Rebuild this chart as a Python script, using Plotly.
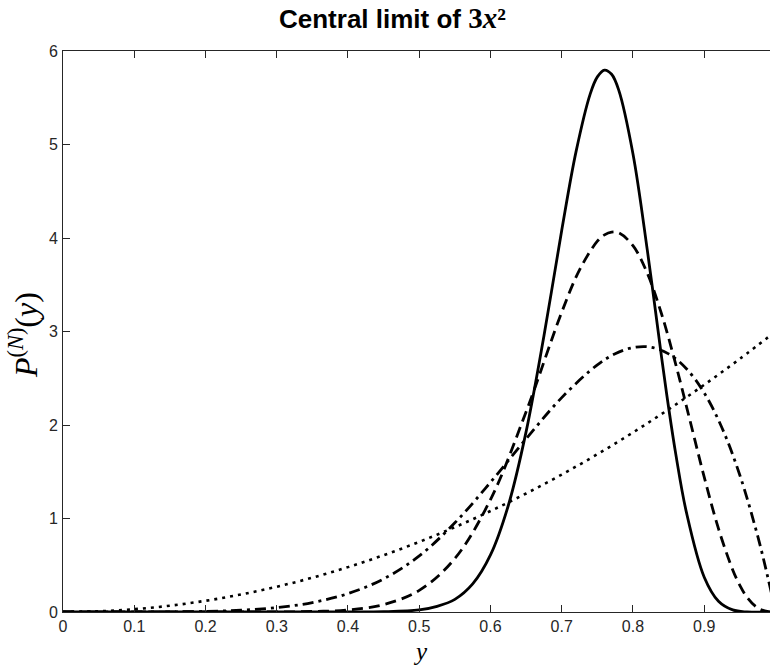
import plotly.graph_objects as go

# ---- data ----
# N = 1 (dotted)
y_n1 = [0, 0.05, 0.1, 0.15, 0.2, 0.25, 0.3, 0.35, 0.4, 0.45, 0.5, 0.55, 0.6,
        0.65, 0.7, 0.75, 0.8, 0.85, 0.9, 0.95, 1.0]
p_n1 = [0, 0.0075, 0.03, 0.0675, 0.12, 0.1875, 0.27, 0.3675, 0.48, 0.6075, 0.75,
        0.9075, 1.08, 1.2675, 1.47, 1.6875, 1.92, 2.1675, 2.43, 2.7075, 3.0]

# N = 2 (dash-dot)
y_n2 = [0, 0.05, 0.1, 0.15, 0.2, 0.25, 0.3, 0.35, 0.4, 0.45, 0.5, 0.55, 0.6,
        0.65, 0.7, 0.75, 0.775, 0.8, 0.825, 0.85, 0.875, 0.9, 0.925, 0.95,
        0.975, 0.99, 1.0]
p_n2 = [0, 0.00001, 0.0002, 0.0015, 0.0061, 0.0188, 0.0467, 0.1008, 0.1966,
        0.3543, 0.6, 0.954, 1.387, 1.852, 2.293, 2.644, 2.762, 2.828, 2.832,
        2.761, 2.602, 2.343, 1.968, 1.463, 0.813, 0.346, 0]

# N = 4 (dashed)
y_n4 = [0, 0.2, 0.25, 0.3, 0.35, 0.4, 0.45, 0.5, 0.55, 0.6, 0.65, 0.7, 0.725,
        0.75, 0.76, 0.77, 0.78, 0.8, 0.82, 0.84, 0.86, 0.88, 0.9, 0.92, 0.94,
        0.95, 0.96, 0.975, 0.99, 1.0]
p_n4 = [0, 0.00001, 0.00013, 0.00097, 0.0053, 0.0225, 0.079, 0.231, 0.572,
        1.203, 2.142, 3.207, 3.659, 3.966, 4.033, 4.063, 4.055, 3.918, 3.624,
        3.190, 2.649, 2.048, 1.442, 0.891, 0.450, 0.285, 0.159, 0.044, 0.003, 0]

# N = 8 (solid)
y_n8 = [0, 0.35, 0.4, 0.45, 0.5, 0.525, 0.55, 0.575, 0.6, 0.625, 0.65, 0.675,
        0.7, 0.72, 0.74, 0.75, 0.76, 0.77, 0.78, 0.8, 0.82, 0.84, 0.85, 0.86,
        0.875, 0.9, 0.92, 0.94, 0.96, 1.0]
p_n8 = [0, 0.0001, 0.0004, 0.003, 0.022, 0.06, 0.135, 0.30, 0.610, 1.139,
        1.929, 2.952, 4.083, 4.921, 5.542, 5.723, 5.796, 5.751, 5.582, 4.899,
        3.876, 2.732, 2.187, 1.691, 1.065, 0.372, 0.115, 0.022, 0.0002, 0]

x_ticks = [0, 0.1, 0.2, 0.3, 0.4, 0.5, 0.6, 0.7, 0.8, 0.9]
x_tick_text = ["0", "0.1", "0.2", "0.3", "0.4", "0.5", "0.6", "0.7", "0.8", "0.9"]
y_ticks = [0, 1, 2, 3, 4, 5, 6]
y_tick_text = ["0", "1", "2", "3", "4", "5", "6"]

AX = "#262626"

fig = go.Figure()
fig.add_trace(go.Scatter(x=y_n1, y=p_n1, mode="lines", line_shape="spline",
                         line=dict(color="black", width=2.6, dash="3px,5px")))
fig.add_trace(go.Scatter(x=y_n2, y=p_n2, mode="lines", line_shape="spline",
                         line=dict(color="black", width=2.8, dash="11px,5px,3px,5px")))
fig.add_trace(go.Scatter(x=y_n4, y=p_n4, mode="lines", line_shape="spline",
                         line=dict(color="black", width=2.8, dash="11px,6px")))
fig.add_trace(go.Scatter(x=y_n8, y=p_n8, mode="lines", line_shape="spline",
                         line=dict(color="black", width=2.8)))

fig.update_layout(
    width=770, height=667,
    margin=dict(l=63, r=0, t=51, b=55),
    paper_bgcolor="white", plot_bgcolor="white",
    showlegend=False,
    font=dict(family="Liberation Sans", size=16, color=AX),
    title=dict(
        text="<b>Central limit of <span style='font-family:Liberation Serif;font-size:29px'>3<i>x</i>²</span></b>",
        font=dict(family="Liberation Sans", size=26, color="black"),
        x=0.5097, xref="container", xanchor="center",
        y=1 - 19 / 667, yref="container", yanchor="middle",
    ),
    annotations=[
        dict(text="<i>P</i><sup>(<i>N</i>)</sup>(<i>y</i>)", textangle=-90,
             x=-0.0563, y=0.494, xref="paper", yref="paper",
             xanchor="center", yanchor="middle", showarrow=False,
             font=dict(family="Liberation Serif", size=32, color="black")),
        dict(text="<i>y</i>", x=0.505, y=-0.098, xref="paper", yref="paper",
             xanchor="center", yanchor="bottom", showarrow=False,
             font=dict(family="Liberation Serif", size=25, color="black")),
    ],
)
fig.update_xaxes(range=[0, 0.9923], tickvals=x_ticks, ticktext=x_tick_text,
                 ticks="inside", ticklen=7, tickwidth=1, tickcolor=AX,
                 showline=True, linecolor=AX, linewidth=1, mirror="ticks",
                 showgrid=False, zeroline=False)
fig.update_yaxes(range=[0, 6], tickvals=y_ticks, ticktext=y_tick_text,
                 ticks="inside", ticklen=7, tickwidth=1, tickcolor=AX,
                 showline=True, linecolor=AX, linewidth=1, mirror=False,
                 showgrid=False, zeroline=False, ticklabelstandoff=1)

# remove the browser's default 8px body margin so the figure fills the window
fig.write_html("out.html",
               config={"displayModeBar": False},
               post_script="document.body.style.margin='0';"
                           "document.documentElement.style.overflow='hidden';")
